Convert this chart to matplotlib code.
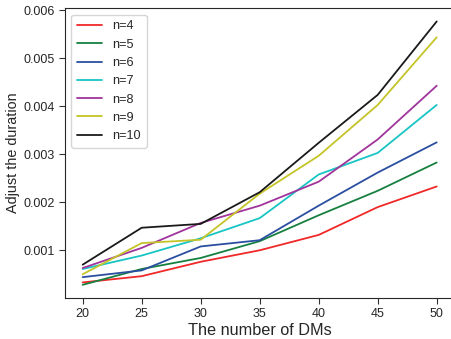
import matplotlib
matplotlib.use("Agg")
import matplotlib.pyplot as plt
import seaborn as sns

sns.set_style("ticks")
plt.rcParams['font.family'] = ['Liberation Sans', 'DejaVu Sans']

dms = [20, 25, 30, 35, 40, 45, 50]
n4 = [0.00033, 0.00046, 0.00076, 0.00100, 0.00132, 0.00190, 0.00233]
n5 = [0.00028, 0.00061, 0.00084, 0.00119, 0.00173, 0.00224, 0.00283]
n6 = [0.00044, 0.00058, 0.00108, 0.00121, 0.00193, 0.00262, 0.00325]
n7 = [0.00061, 0.00089, 0.00125, 0.00167, 0.00258, 0.00303, 0.00403]
n8 = [0.00063, 0.00105, 0.00157, 0.00193, 0.00243, 0.00331, 0.00443]
n9 = [0.00050, 0.00115, 0.00122, 0.00218, 0.00297, 0.00403, 0.00544]
n10 = [0.00070, 0.00147, 0.00155, 0.00221, 0.00324, 0.00424, 0.00577]

series = [n4, n5, n6, n7, n8, n9, n10]
labels = ['n=4', 'n=5', 'n=6', 'n=7', 'n=8', 'n=9', 'n=10']
colors = ['#f02828', '#168040', '#2a4ea0', '#18c4c4', '#a0349c', '#c4c428', '#1a1a1a']

fig = plt.figure(figsize=(4.52, 3.39), dpi=100)
ax = fig.add_axes([0.1438, 0.121, 0.8615, 0.8545])

for ys, lab, c in zip(series, labels, colors):
    ax.plot(dms, ys, color=c, lw=1.3, label=lab)

ax.set_xlabel('The number of DMs', fontsize=11.7, labelpad=2, color='#262626')
ax.set_ylabel('Adjust the duration', fontsize=10.4, labelpad=2.5, color='#262626')
ax.set_xticks(dms)
ax.set_yticks([0.001, 0.002, 0.003, 0.004, 0.005, 0.006])
ax.tick_params(labelsize=9.0, length=4, color='#333333', labelcolor='#262626')
for s in ['left', 'bottom', 'top', 'right']:
    ax.spines[s].set_color('#262626')
ax.spines['right'].set_visible(False)

ax.legend(loc='upper left', fontsize=9.1, frameon=True, handlelength=2.0,
          borderpad=0.45, labelspacing=0.5)

fig.savefig('out.png', dpi=100)
